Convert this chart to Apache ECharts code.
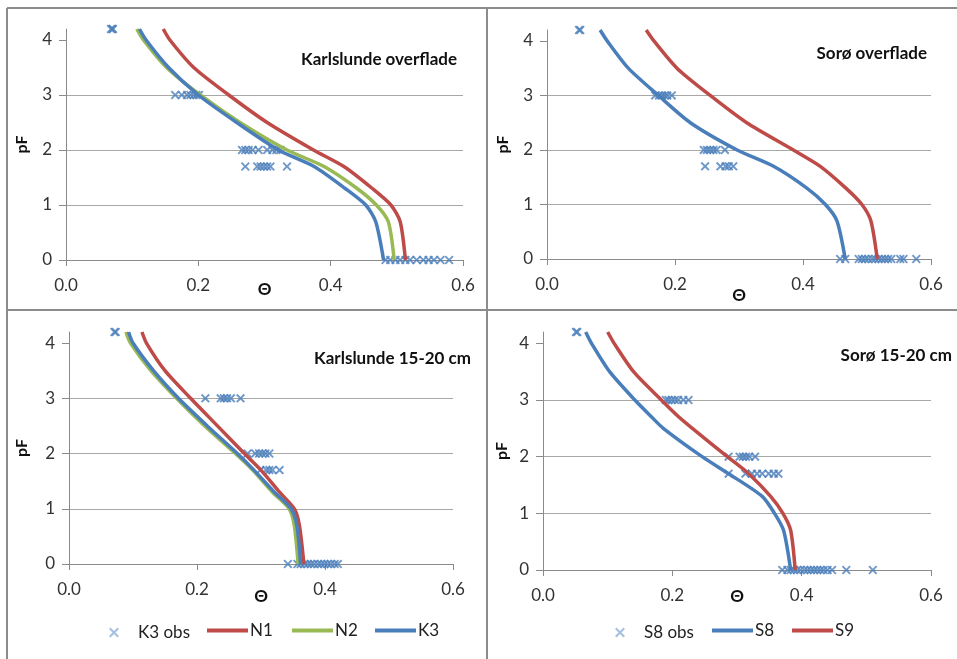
<!DOCTYPE html>
<html>
<head>
<meta charset="utf-8">
<script src="https://cdn.jsdelivr.net/npm/echarts@6/dist/echarts.min.js"></script>
<style>
  html, body { margin: 0; padding: 0; background: #fff; }
  #chart { width: 957px; height: 659px; }
</style>
</head>
<body>
<div id="chart"></div>
<script>
// pF levels at which the retention curves are evaluated
const pfLevels = [0, 0.7, 1.0, 1.3, 1.7, 2.0, 2.5, 3.0, 3.5, 4.0, 4.2];
const pfLevelsSoroDeep = [0, 0.7, 1.0, 1.3, 1.7, 2.0, 2.5, 2.7, 3.0, 3.5, 4.0, 4.2];

// Karlslunde overflade: water content (Θ) of modelled curves
const karlSurfN1 = [0.513, 0.505, 0.491, 0.463, 0.420, 0.374, 0.304, 0.246, 0.193, 0.157, 0.147];
const karlSurfN2 = [0.496, 0.487, 0.469, 0.440, 0.390, 0.334, 0.263, 0.203, 0.152, 0.117, 0.107];
const karlSurfK3 = [0.480, 0.468, 0.453, 0.422, 0.375, 0.321, 0.258, 0.200, 0.155, 0.121, 0.111];
// Karlslunde overflade: observations
const karlSurfObsTheta = [0.068, 0.070, 0.071,
  0.165, 0.175, 0.183, 0.188, 0.193, 0.197, 0.201,
  0.266, 0.271, 0.276, 0.282, 0.291, 0.304, 0.312, 0.318, 0.324,
  0.271, 0.289, 0.294, 0.299, 0.304, 0.309, 0.334,
  0.483, 0.490, 0.498, 0.505, 0.513, 0.520, 0.530, 0.540, 0.548, 0.556, 0.566, 0.579];
const karlSurfObsPF = [4.2, 4.2, 4.2,
  3, 3, 3, 3, 3, 3, 3,
  2, 2, 2, 2, 2, 2, 2, 2, 2,
  1.7, 1.7, 1.7, 1.7, 1.7, 1.7, 1.7,
  0, 0, 0, 0, 0, 0, 0, 0, 0, 0, 0, 0];

// Sorø overflade
const soroSurfS8 = [0.466, 0.453, 0.435, 0.406, 0.354, 0.297, 0.224, 0.174, 0.127, 0.094, 0.083];
const soroSurfS9 = [0.516, 0.506, 0.492, 0.467, 0.427, 0.385, 0.312, 0.255, 0.203, 0.167, 0.155];
const soroSurfObsTheta = [0.050, 0.052,
  0.169, 0.175, 0.180, 0.184, 0.188, 0.195,
  0.245, 0.250, 0.255, 0.260, 0.265, 0.278,
  0.247, 0.271, 0.279, 0.284, 0.291,
  0.458, 0.466, 0.487, 0.492, 0.497, 0.502, 0.508, 0.513, 0.518, 0.523, 0.528, 0.533, 0.538, 0.552, 0.557, 0.577];
const soroSurfObsPF = [4.2, 4.2,
  3, 3, 3, 3, 3, 3,
  2, 2, 2, 2, 2, 2,
  1.7, 1.7, 1.7, 1.7, 1.7,
  0, 0, 0, 0, 0, 0, 0, 0, 0, 0, 0, 0, 0, 0, 0, 0];

// Karlslunde 15-20 cm
const karlDeepN1 = [0.367, 0.360, 0.352, 0.329, 0.300, 0.274, 0.232, 0.190, 0.150, 0.121, 0.114];
const karlDeepN2 = [0.358, 0.352, 0.344, 0.318, 0.287, 0.260, 0.212, 0.168, 0.128, 0.096, 0.089];
const karlDeepK3 = [0.362, 0.356, 0.347, 0.321, 0.289, 0.263, 0.216, 0.171, 0.132, 0.100, 0.093];
const karlDeepObsTheta = [0.071, 0.073,
  0.213, 0.237, 0.242, 0.247, 0.253, 0.268,
  0.279, 0.291, 0.297, 0.302, 0.307, 0.313,
  0.299, 0.308, 0.313, 0.318, 0.329,
  0.342, 0.357, 0.362, 0.368, 0.373, 0.378, 0.383, 0.389, 0.394, 0.399, 0.404, 0.409, 0.415, 0.420];
const karlDeepObsPF = [4.2, 4.2,
  3, 3, 3, 3, 3, 3,
  2, 2, 2, 2, 2, 2,
  1.7, 1.7, 1.7, 1.7, 1.7,
  0, 0, 0, 0, 0, 0, 0, 0, 0, 0, 0, 0, 0, 0];

// Sorø 15-20 cm
const soroDeepS8 = [0.383, 0.372, 0.358, 0.339, 0.287, 0.246, 0.186, 0.168, 0.142, 0.103, 0.075, 0.066];
const soroDeepS9 = [0.390, 0.383, 0.371, 0.352, 0.318, 0.285, 0.231, 0.210, 0.183, 0.140, 0.110, 0.100];
const soroDeepObsTheta = [0.051, 0.053,
  0.190, 0.194, 0.199, 0.204, 0.209, 0.217, 0.225,
  0.287, 0.304, 0.309, 0.314, 0.319, 0.328,
  0.287, 0.313, 0.323, 0.331, 0.339, 0.349, 0.357, 0.364,
  0.370, 0.378, 0.383, 0.388, 0.393, 0.398, 0.404, 0.409, 0.414, 0.419, 0.424, 0.429, 0.434, 0.440, 0.447, 0.469, 0.510];
const soroDeepObsPF = [4.2, 4.2,
  3, 3, 3, 3, 3, 3, 3,
  2, 2, 2, 2, 2, 2,
  1.7, 1.7, 1.7, 1.7, 1.7, 1.7, 1.7, 1.7,
  0, 0, 0, 0, 0, 0, 0, 0, 0, 0, 0, 0, 0, 0, 0, 0, 0];

const panelTitles = ['Karlslunde overflade', 'Sorø overflade', 'Karlslunde 15-20 cm', 'Sorø 15-20 cm'];
const xTicks = [0, 0.2, 0.4, 0.6];
const yTicks = [0, 1, 2, 3, 4];

const BLUE = '#4A7EBB', RED = '#BE4B48', GREEN = '#98B954';
const FONT = 'Lato, "Open Sans", sans-serif';
const CROSS = 'path://M1.5,0L5,3.5L8.5,0L10,1.5L6.5,5L10,8.5L8.5,10L5,6.5L1.5,10L0,8.5L3.5,5L0,1.5Z';

function curve(levels, thetas) {
  return thetas.map((t, i) => [t, levels[i]]);
}
function points(thetas, pfs) {
  return thetas.map((t, i) => [t, pfs[i]]);
}

// plot-area boxes in pixels
const grids = [
  { left: 66, right: 494, top: 29, bottom: 399 },
  { left: 547, right: 26, top: 30, bottom: 400 },
  { left: 69, right: 504, top: 332, bottom: 95 },
  { left: 543, right: 26, top: 332, bottom: 89 }
];
const xNameGaps = [21, 28, 24, 18];
const yNameGaps = [36, 36, 39, 33];

const xAxes = grids.map((g, i) => ({
  gridIndex: i, type: 'value', min: 0, max: 0.6, interval: 0.2,
  name: 'Θ', nameLocation: 'middle', nameGap: xNameGaps[i], nameMoveOverlap: false,
  nameTextStyle: { fontFamily: FONT, fontWeight: 'bold', fontSize: 17, color: '#111' },
  axisLine: { show: true, lineStyle: { color: '#8a8a8a', width: 1 } },
  axisTick: { show: true, length: 6, lineStyle: { color: '#8a8a8a' }, customValues: xTicks },
  axisLabel: { fontFamily: FONT, fontSize: 17, color: '#333', margin: 17,
    customValues: xTicks, formatter: v => v.toFixed(1) },
  splitLine: { show: false }
}));
const yAxes = grids.map((g, i) => ({
  gridIndex: i, type: 'value', min: 0, max: 4.2, interval: 1,
  name: 'pF', nameLocation: 'middle', nameRotate: 90, nameGap: yNameGaps[i], nameMoveOverlap: false,
  nameTextStyle: { fontFamily: FONT, fontWeight: 'bold', fontSize: 16, color: '#111' },
  axisLine: { show: true, lineStyle: { color: '#8a8a8a', width: 1 } },
  axisTick: { show: true, length: 7, lineStyle: { color: '#8a8a8a' }, customValues: yTicks },
  axisLabel: { fontFamily: FONT, fontSize: 17, color: '#333', margin: 14,
    customValues: yTicks, formatter: v => (Number.isInteger(v) ? String(v) : '') },
  splitLine: { show: true, showMaxLine: false, lineStyle: { color: '#a8a8a8', width: 1 } }
}));

function lineSeries(name, color, idx, data) {
  return {
    name, type: 'line', xAxisIndex: idx, yAxisIndex: idx, data,
    symbol: 'none', smooth: 0.25, clip: false,
    lineStyle: { color, width: 3.5 }, itemStyle: { color },
    emphasis: { disabled: true }, z: 3
  };
}
function obsSeries(name, idx, data) {
  return {
    name, type: 'scatter', xAxisIndex: idx, yAxisIndex: idx, data,
    symbol: CROSS, symbolSize: 9, clip: false,
    itemStyle: { color: BLUE }, emphasis: { disabled: true }, z: 2
  };
}

const series = [
  obsSeries('K3 obs', 0, points(karlSurfObsTheta, karlSurfObsPF)),
  lineSeries('N1', RED, 0, curve(pfLevels, karlSurfN1)),
  lineSeries('N2', GREEN, 0, curve(pfLevels, karlSurfN2)),
  lineSeries('K3', BLUE, 0, curve(pfLevels, karlSurfK3)),

  obsSeries('S8 obs', 1, points(soroSurfObsTheta, soroSurfObsPF)),
  lineSeries('S9', RED, 1, curve(pfLevels, soroSurfS9)),
  lineSeries('S8', BLUE, 1, curve(pfLevels, soroSurfS8)),

  obsSeries('K3 obs', 2, points(karlDeepObsTheta, karlDeepObsPF)),
  lineSeries('N1', RED, 2, curve(pfLevels, karlDeepN1)),
  lineSeries('N2', GREEN, 2, curve(pfLevels, karlDeepN2)),
  lineSeries('K3', BLUE, 2, curve(pfLevels, karlDeepK3)),

  obsSeries('S8 obs', 3, points(soroDeepObsTheta, soroDeepObsPF)),
  lineSeries('S9', RED, 3, curve(pfLevelsSoroDeep, soroDeepS9)),
  lineSeries('S8', BLUE, 3, curve(pfLevelsSoroDeep, soroDeepS8))
];

// panel titles, right-aligned inside each plot
const titlePos = [
  { right: 500, top: 51 },
  { right: 30, top: 45 },
  { right: 486, top: 350 },
  { right: 5, top: 347 }
];
const titles = panelTitles.map((t, i) => ({
  text: t, right: titlePos[i].right, top: titlePos[i].top, padding: 0,
  textStyle: { fontFamily: FONT, fontWeight: 'bold', fontSize: 17, color: '#111' }
}));

// one legend block per entry so each can be placed precisely
const legendText = { fontFamily: FONT, fontSize: 17, color: '#222' };
function lineLegend(name, left, top) {
  return { data: [{ name, icon: 'rect' }], left, top, itemWidth: 41, itemHeight: 4, itemGap: 0,
    selectedMode: false, padding: 0, textStyle: Object.assign({ padding: [0, 0, 0, -3] }, legendText) };
}
function obsLegend(name, left, top) {
  return { data: [{ name, icon: CROSS, itemStyle: { color: '#8FB0DA' } }], left, top,
    itemWidth: 10, itemHeight: 10, selectedMode: false, padding: 0,
    textStyle: Object.assign({ padding: [0, 0, 0, 14] }, legendText) };
}
const legends = [
  obsLegend('K3 obs', 109, 624),
  lineLegend('N1', 207, 622),
  lineLegend('N2', 292, 622),
  lineLegend('K3', 375, 622),
  obsLegend('S8 obs', 615, 624),
  lineLegend('S8', 712, 622),
  lineLegend('S9', 792, 622)
];

// panel frame lines
const FRAME = '#8c8c8c';
const frameLine = (x1, y1, x2, y2) => ({
  type: 'line', silent: true, z: 10,
  shape: { x1, y1, x2, y2 }, style: { stroke: FRAME, lineWidth: 2 }
});

const chart = echarts.init(document.getElementById('chart'), null, { renderer: 'canvas' });
chart.setOption({
  animation: false,
  backgroundColor: '#ffffff',
  title: titles,
  legend: legends,
  grid: grids,
  xAxis: xAxes,
  yAxis: yAxes,
  series,
  graphic: [
    frameLine(7, 8, 957, 8),
    frameLine(7, 8, 7, 659),
    frameLine(487, 8, 487, 659),
    frameLine(7, 310, 957, 310)
  ]
});
</script>
</body>
</html>
